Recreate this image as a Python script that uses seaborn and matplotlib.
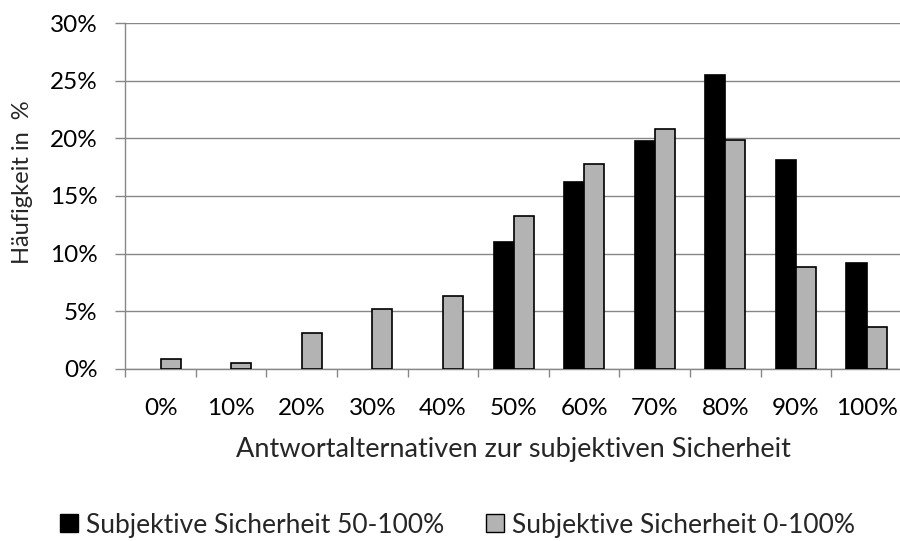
import matplotlib
matplotlib.use("Agg")
import matplotlib.pyplot as plt
from matplotlib.patches import Patch
from matplotlib.ticker import FixedLocator
import numpy as np
import pandas as pd
import seaborn as sns

# Answer alternatives (subjective certainty) and relative frequencies in %
categories = ["0%", "10%", "20%", "30%", "40%", "50%", "60%", "70%", "80%", "90%", "100%"]
series_names = ["Subjektive Sicherheit 50-100%", "Subjektive Sicherheit 0-100%"]
sicherheit_50_100 = [np.nan, np.nan, np.nan, np.nan, np.nan, 11.0, 16.2, 19.8, 25.5, 18.1, 9.2]
sicherheit_0_100 = [0.85, 0.47, 3.07, 5.16, 6.34, 13.3, 17.8, 20.85, 19.9, 8.8, 3.65]
y_ticks = [0, 5, 10, 15, 20, 25, 30]

df = pd.DataFrame({
    "Kategorie": categories * 2,
    "Serie": [series_names[0]] * len(categories) + [series_names[1]] * len(categories),
    "Wert": sicherheit_50_100 + sicherheit_0_100,
})

sns.set_theme(style="white")
plt.rcParams["font.family"] = ["Lato", "DejaVu Sans"]

GRID = "#878787"
palette = {series_names[0]: "#000000", series_names[1]: "#b3b3b3"}
fs_tick = 17.5
fs_title = 19.5
fs_legend = 19
fs_ylabel = 17

fig = plt.figure(figsize=(9.0, 5.41), dpi=100)
ax = fig.add_axes([125.3 / 900, 1 - 368.7 / 541, 1 - 125.3 / 900 + 0.002, (368.7 - 23.3) / 541])

sns.barplot(data=df, x="Kategorie", y="Wert", hue="Serie", order=categories,
            hue_order=series_names, palette=palette, errorbar=None,
            width=0.567, gap=0, edgecolor="black", linewidth=1.2,
            legend=False, ax=ax, zorder=3)

ax.set_ylim(0, 30)
ax.set_xlim(-0.5, len(categories) - 0.5)
ax.set_yticks(y_ticks)
ax.set_yticklabels([f"{v}%" for v in y_ticks], fontsize=fs_tick, color="black")
ax.yaxis.grid(True, color=GRID, linewidth=1.0, zorder=0)
ax.set_axisbelow(True)

# Category labels at centres, tick marks at the category boundaries
ax.set_xticks(range(len(categories)))
ax.set_xticklabels(categories, fontsize=fs_tick, color="black")
ax.xaxis.set_minor_locator(FixedLocator(np.arange(-0.5, len(categories), 1.0)))
ax.tick_params(axis="x", which="major", length=0, pad=21)
ax.tick_params(axis="x", which="minor", length=6, width=1.0, color=GRID, direction="out", bottom=True)
ax.tick_params(axis="y", which="major", length=7, width=1.0, color=GRID, direction="out", left=True, pad=13)

for side in ["top", "right"]:
    ax.spines[side].set_visible(False)
for side in ["left", "bottom"]:
    ax.spines[side].set_color(GRID)
    ax.spines[side].set_linewidth(1.0)

ax.set_xlabel("")
ax.set_ylabel("")
fig.text(513 / 900, 1 - 450 / 541, "Antwortalternativen zur subjektiven Sicherheit",
         ha="center", va="center", fontsize=fs_title)
fig.text(23 / 900, 1 - 182 / 541, "Häufigkeit in  %", rotation=90,
         ha="center", va="center", fontsize=fs_ylabel)

handles = [Patch(facecolor=palette[n], edgecolor="black", linewidth=1.0, label=n) for n in series_names]
fig.legend(handles=handles, loc="center left", bbox_to_anchor=(60 / 900, 1 - 525 / 541),
           ncol=2, frameon=False, fontsize=fs_legend, handlelength=0.68, handleheight=0.68,
           handletextpad=0.3, columnspacing=1.6, borderpad=0, borderaxespad=0)

fig.savefig("out.png", dpi=100)
